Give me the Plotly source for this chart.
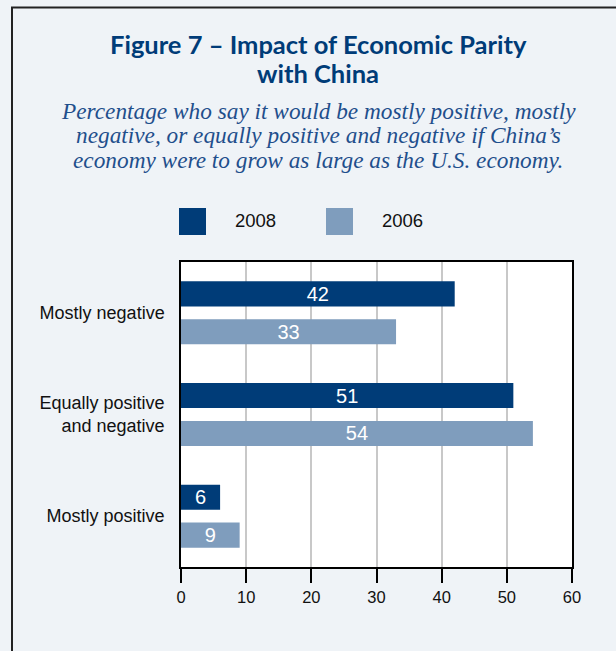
import plotly.graph_objects as go

categories = ["Mostly negative", "Equally positive<br>and negative", "Mostly positive"]
values_2008 = [42, 51, 6]
values_2006 = [33, 54, 9]
series_names = ["2008", "2006"]
x_ticks = [0, 10, 20, 30, 40, 50, 60]

title_lines = ["Figure 7 – Impact of Economic Parity", "with China"]
subtitle_lines = ["Percentage who say it would be mostly positive, mostly",
                  "negative, or equally positive and negative if China’s",
                  "economy were to grow as large as the U.S. economy."]

W, H = 616, 651
L, R, T, B = 181, 44, 262, 84
PW, PH = W - L - R, H - T - B

def px(x):
    return (x - L) / PW

def py(y):
    return (H - B - y) / PH

C2008 = "#003c78"
C2006 = "#7f9dbd"
BG = "#eff3f7"
SANS = "Liberation Sans, Arial, sans-serif"

fig = go.Figure()
for name, vals, col in [(series_names[0], values_2008, C2008), (series_names[1], values_2006, C2006)]:
    fig.add_trace(go.Bar(
        y=categories, x=vals, name=name, orientation="h",
        marker=dict(color=col, line=dict(width=0)),
        text=[str(v) for v in vals], textposition="inside",
        insidetextanchor="middle", textangle=0, constraintext="none",
        textfont=dict(color="white", size=20, family=SANS),
        showlegend=False,
    ))

fig.update_layout(
    width=W, height=H,
    margin=dict(l=L, r=R, t=T, b=B),
    paper_bgcolor=BG, plot_bgcolor="white",
    barmode="group", bargap=0.253, bargroupgap=0.34,
    xaxis=dict(range=[0, 60], tickvals=x_ticks, showgrid=True,
               gridcolor="#c8c8c8", gridwidth=1.5, ticks="outside",
               ticklen=14, tickcolor="black", tickwidth=1.5,
               showline=True, linecolor="black", linewidth=1.5, mirror=True,
               tickfont=dict(family=SANS, size=16.5, color="#111"),
               zeroline=False, fixedrange=True),
    yaxis=dict(autorange="reversed", showline=True, linecolor="black",
               linewidth=1.5, mirror=True, ticks="", ticklabelstandoff=11,
               tickfont=dict(family=SANS, size=18, color="#111"),
               fixedrange=True),
    font=dict(family=SANS),
)

# frame
fig.add_shape(type="line", xref="paper", yref="paper",
              x0=px(12), x1=px(12), y0=py(7), y1=py(660),
              line=dict(color="#222", width=2))
fig.add_shape(type="line", xref="paper", yref="paper",
              x0=px(11), x1=px(630), y0=py(7.5), y1=py(7.5),
              line=dict(color="#222", width=2))

# title
for line, yc in zip(title_lines, [44, 73]):
    fig.add_annotation(text="<b>" + line + "</b>", xref="paper", yref="paper",
                       x=px(318), y=py(yc), xanchor="center", yanchor="middle",
                       showarrow=False, align="center",
                       font=dict(family="Lato, Open Sans, sans-serif", size=25.5, color="#003c78"))
for line, yc in zip(subtitle_lines, [110.5, 135, 159.5]):
    fig.add_annotation(text="<i>" + line + "</i>", xref="paper", yref="paper",
                       x=px(318), y=py(yc), xanchor="center", yanchor="middle",
                       showarrow=False, align="center",
                       font=dict(family="Liberation Serif, DejaVu Serif, serif", size=23.3, color="#1f4f8c"))

# legend
for (x0, tx), name, col in zip([(179, 233), (326, 380)], series_names, [C2008, C2006]):
    fig.add_shape(type="rect", xref="paper", yref="paper",
                  x0=px(x0), x1=px(x0 + 27), y0=py(235), y1=py(208),
                  fillcolor=col, line=dict(width=0))
    fig.add_annotation(text=name, xref="paper", yref="paper",
                       x=px(tx), y=py(221), xanchor="left", yanchor="middle",
                       showarrow=False,
                       font=dict(family=SANS, size=18.5, color="#111"))

fig.write_html("out.html")
